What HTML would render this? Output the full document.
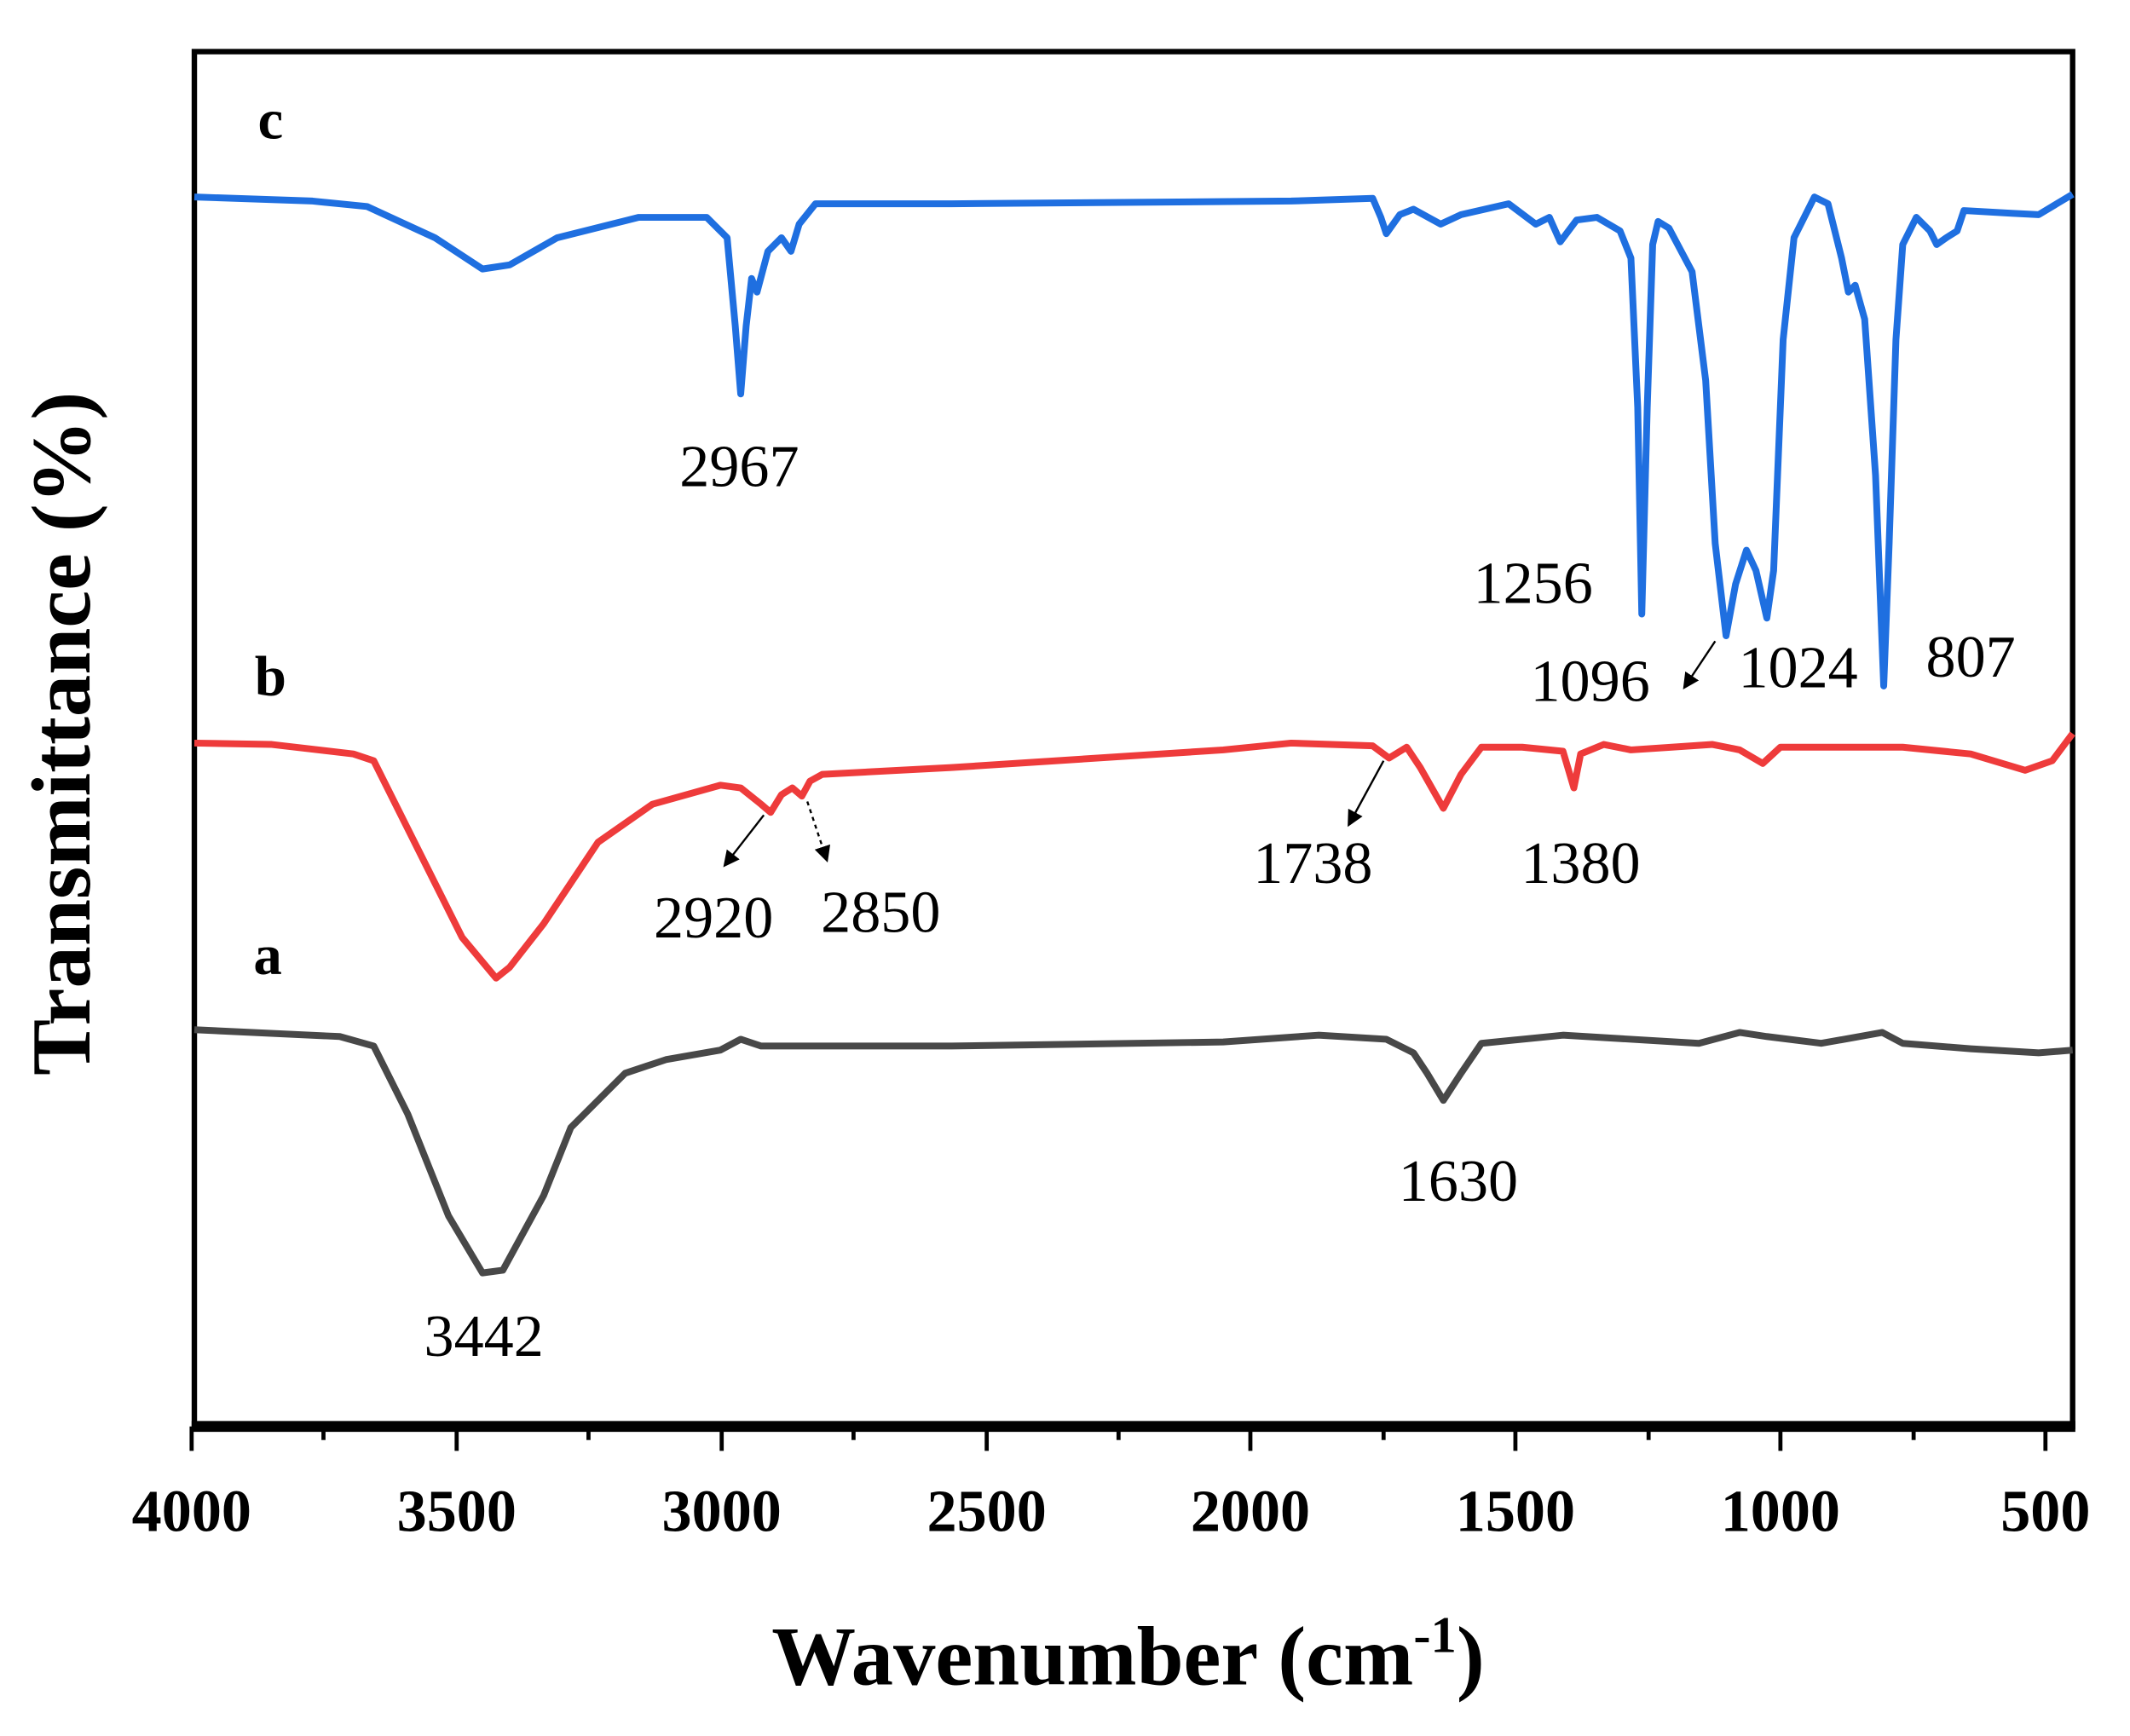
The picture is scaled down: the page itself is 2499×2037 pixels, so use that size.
<!DOCTYPE html>
<html><head><meta charset="utf-8"><style>html,body{margin:0;padding:0;background:#fff}svg{display:block}</style></head>
<body>
<svg width="2499" height="2037" viewBox="0 0 1560 1272" preserveAspectRatio="none" xmlns="http://www.w3.org/2000/svg" font-family="Liberation Serif, serif">
<defs><marker id="ah" markerWidth="8" markerHeight="8" refX="6" refY="4" orient="auto" markerUnits="strokeWidth"><path d="M0,0 L8,4 L0,8 z" fill="#000"/></marker></defs>
<g transform="scale(0.9954)">
<rect x="143" y="38" width="1382" height="1012" fill="none" stroke="#000" stroke-width="4"/>
<line x1="141" y1="1050" x2="1527" y2="1050" stroke="#000" stroke-width="8"/>
<g stroke="#000" stroke-width="3">
<line x1="141" y1="1050" x2="141" y2="1068"/><line x1="336" y1="1050" x2="336" y2="1068"/><line x1="531" y1="1050" x2="531" y2="1068"/><line x1="726" y1="1050" x2="726" y2="1068"/><line x1="920" y1="1050" x2="920" y2="1068"/><line x1="1115" y1="1050" x2="1115" y2="1068"/><line x1="1310" y1="1050" x2="1310" y2="1068"/><line x1="1505" y1="1050" x2="1505" y2="1068"/>
<line x1="238" y1="1050" x2="238" y2="1060"/><line x1="433" y1="1050" x2="433" y2="1060"/><line x1="628" y1="1050" x2="628" y2="1060"/><line x1="823" y1="1050" x2="823" y2="1060"/><line x1="1018" y1="1050" x2="1018" y2="1060"/><line x1="1213" y1="1050" x2="1213" y2="1060"/><line x1="1408" y1="1050" x2="1408" y2="1060"/>
</g>
<g font-size="44" font-weight="bold" text-anchor="middle">
<text x="141" y="1127">4000</text><text x="336" y="1127">3500</text><text x="531" y="1127">3000</text><text x="726" y="1127">2500</text><text x="920" y="1127">2000</text><text x="1115" y="1127">1500</text><text x="1310" y="1127">1000</text><text x="1505" y="1127">500</text>
</g>
<text x="830" y="1240" font-size="62" font-weight="bold" text-anchor="middle">Wavenumber (cm<tspan dy="-24" font-size="38">-1</tspan><tspan dy="24">)</tspan></text>
<text transform="translate(66,540) rotate(-90)" font-size="62" font-weight="bold" text-anchor="middle">Transmittance (%)</text>
<polyline fill="none" stroke="#1f6fe0" stroke-width="5" stroke-linejoin="round" points="143,145 230,148 270,152 320,175 355,198 375,195 410,175 470,160 520,160 535,175 541,240 545,290 549,240 553,205 557,215 565,185 575,175 582,185 588,165 600,150 700,150 950,148 1010,146 1016,160 1020,172 1030,158 1040,154 1060,165 1075,158 1110,150 1130,165 1140,160 1148,178 1160,162 1175,160 1192,170 1200,190 1205,300 1208,452 1212,300 1216,180 1220,163 1228,168 1245,200 1255,280 1262,400 1270,468 1277,430 1285,405 1292,420 1300,455 1305,420 1312,250 1320,175 1335,145 1345,150 1355,190 1360,215 1365,210 1372,235 1380,350 1386,505 1390,400 1395,250 1400,180 1410,160 1420,170 1425,180 1432,175 1440,170 1445,155 1480,157 1500,158 1525,143"/>
<polyline fill="none" stroke="#ee3b3b" stroke-width="5" stroke-linejoin="round" points="143,547 200,548 260,555 275,560 300,610 340,690 365,720 375,712 400,680 440,620 480,592 530,578 545,580 560,592 567,598 575,585 583,580 590,586 596,575 605,570 700,565 900,552 950,547 1010,549 1022,558 1035,550 1045,565 1062,595 1075,570 1090,550 1120,550 1150,553 1158,580 1163,555 1180,548 1200,552 1230,550 1260,548 1280,552 1297,562 1310,550 1400,550 1450,555 1490,567 1510,560 1525,540"/>
<polyline fill="none" stroke="#484848" stroke-width="5" stroke-linejoin="round" points="143,758 250,763 275,770 300,820 330,895 355,937 370,935 400,880 420,830 460,790 490,780 530,773 545,765 560,770 700,770 900,767 970,762 1020,765 1040,775 1050,790 1062,810 1075,790 1090,768 1150,762 1200,765 1250,768 1280,760 1300,763 1340,768 1385,760 1400,768 1450,772 1500,775 1525,773"/>
<g font-size="42" font-weight="bold" text-anchor="middle"><text x="199" y="102">c</text><text x="199" y="512">b</text><text x="197" y="717">a</text></g>
<g font-size="44" text-anchor="middle">
<text x="544" y="358">2967</text><text x="1128" y="444">1256</text><text x="1170" y="516">1096</text><text x="1323" y="506">1024</text><text x="1450" y="498">807</text>
<text x="525" y="690">2920</text><text x="648" y="686">2850</text><text x="966" y="650">1738</text><text x="1163" y="650">1380</text><text x="1073" y="884">1630</text><text x="356" y="998">3442</text>
</g>
<g stroke="#000" stroke-width="1.5" fill="none">
<line x1="1262" y1="472" x2="1240" y2="505" marker-end="url(#ah)"/>
<line x1="1018" y1="560" x2="993" y2="606" marker-end="url(#ah)"/>
<line x1="562" y1="600" x2="534" y2="636" marker-end="url(#ah)"/>
<line x1="594" y1="590" x2="608" y2="632" stroke-dasharray="3,3" marker-end="url(#ah)"/>
</g>
</g>
</svg>
</body></html>
